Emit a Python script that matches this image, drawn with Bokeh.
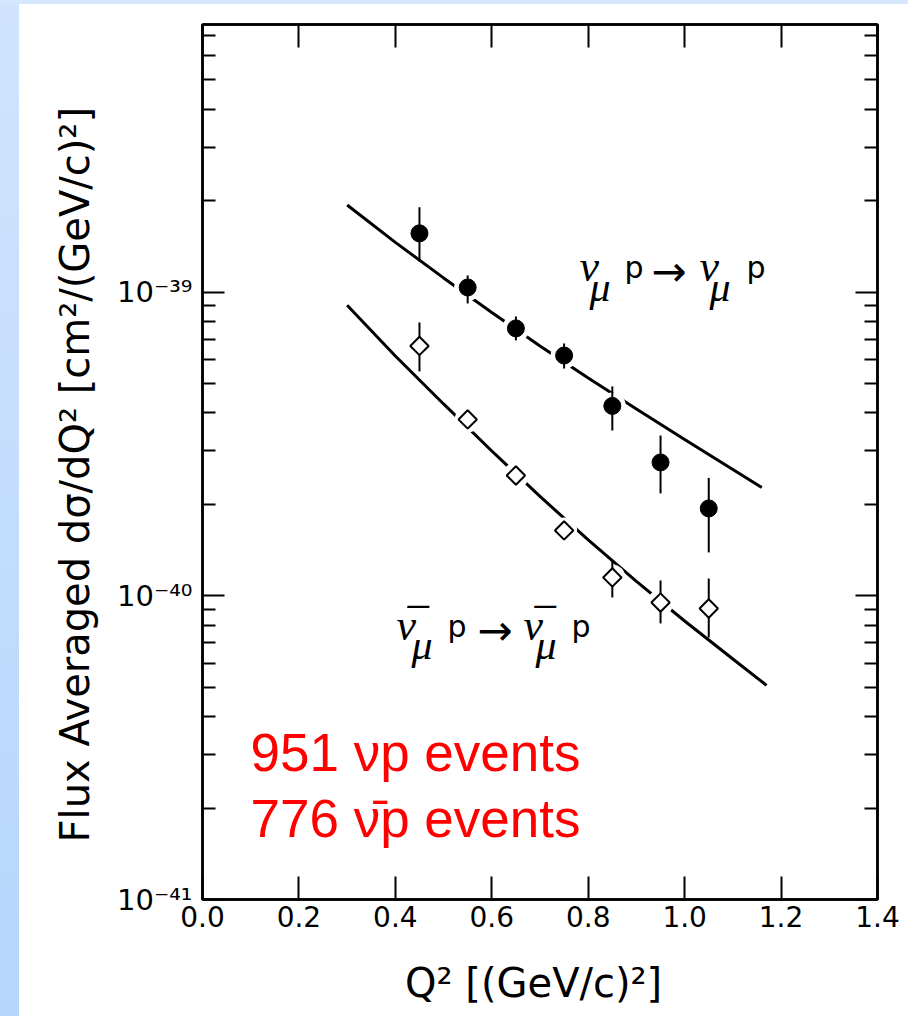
import math
from bokeh.plotting import figure
from bokeh.models import (FixedTicker, LogAxis, LinearAxis, Label, Div, Range1d,
                          PrintfTickFormatter, CustomJSTickFormatter)
from bokeh.layouts import column, row
from bokeh.embed import file_html
from bokeh.resources import INLINE

# ---------------- data ----------------
q2_points = [0.45, 0.55, 0.65, 0.75, 0.85, 0.95, 1.05]

nu_sigma = [1.560e-39, 1.035e-39, 7.59e-40, 6.18e-40, 4.217e-40, 2.748e-40, 1.939e-40]
nu_hi    = [1.900e-39, 1.134e-39, 8.31e-40, 6.77e-40, 4.89e-40, 3.37e-40, 2.443e-40]
nu_lo    = [1.261e-39, 9.17e-40, 6.93e-40, 5.60e-40, 3.50e-40, 2.173e-40, 1.389e-40]

nubar_sigma = [6.645e-40, 3.806e-40, 2.489e-40, 1.641e-40, 1.149e-40, 9.50e-41, 9.08e-41]
nubar_hi    = [7.94e-40, 4.00e-40, 2.60e-40, 1.74e-40, 1.307e-40, 1.123e-40, 1.140e-40]
nubar_lo    = [5.48e-40, 3.62e-40, 2.38e-40, 1.55e-40, 9.87e-41, 8.11e-41, 7.29e-41]

fit_q2_nu = [0.30, 0.40, 0.50, 0.60, 0.70, 0.80, 0.90, 1.00, 1.10, 1.16]
fit_nu    = [1.935e-39, 1.457e-39, 1.113e-39, 8.566e-40, 6.645e-40, 5.215e-40,
             4.122e-40, 3.271e-40, 2.605e-40, 2.272e-40]

fit_q2_nubar = [0.30, 0.40, 0.50, 0.60, 0.70, 0.80, 0.90, 1.00, 1.10, 1.17]
fit_nubar    = [9.047e-40, 6.16e-40, 4.281e-40, 2.997e-40, 2.123e-40, 1.527e-40,
                1.115e-40, 8.26e-41, 6.19e-41, 5.07e-41]

x_ticks = [0.0, 0.2, 0.4, 0.6, 0.8, 1.0, 1.2, 1.4]
y_major = [1e-41, 1e-40, 1e-39]
y_tick_labels = ["10⁻⁴¹", "10⁻⁴⁰", "10⁻³⁹"]

x_title = "Q²  [(GeV/c)²]"
y_title = "Flux Averaged  dσ/dQ²  [cm²/(GeV/c)²]"

# ---------------- figure ----------------
X_MIN, X_MAX = 0.0, 1.4
Y_MIN, Y_MAX = 1e-41, 7.6e-39
FRAME_L, FRAME_R, FRAME_T, FRAME_B = 202, 877, 24, 899   # page pixels
PAGE_DX, PAGE_DY = 19, 4

W, H = 908 - PAGE_DX, 1016 - PAGE_DY

p = figure(width=W, height=H, x_range=Range1d(X_MIN, X_MAX), y_range=Range1d(Y_MIN, Y_MAX),
           y_axis_type="log", output_backend="svg", toolbar_location=None,
           min_border_left=FRAME_L - PAGE_DX, min_border_right=908 - FRAME_R,
           min_border_top=FRAME_T - PAGE_DY, min_border_bottom=1016 - FRAME_B)
p.background_fill_color = "white"
p.border_fill_color = "white"
p.outline_line_color = "black"
p.outline_line_width = 2.5
p.xgrid.visible = False
p.ygrid.visible = False

dec_px = (FRAME_B - FRAME_T) / math.log10(Y_MAX / Y_MIN)

def X(px):
    return X_MIN + (px - FRAME_L) / (FRAME_R - FRAME_L) * (X_MAX - X_MIN)

def Y(py):
    return 10 ** (math.log10(Y_MIN) + (FRAME_B - py) / dec_px)

blank = CustomJSTickFormatter(code="return ''")
minor = [k * 10.0 ** e for e in (-41, -40, -39) for k in range(2, 10) if k * 10.0 ** e <= Y_MAX]

def style_y(ax, labels=False):
    ax.ticker = FixedTicker(ticks=y_major, minor_ticks=minor)
    ax.major_tick_in = 22
    ax.major_tick_out = 0
    ax.minor_tick_in = 13
    ax.minor_tick_out = 0
    ax.axis_line_width = 2.5
    ax.major_tick_line_width = 2
    ax.minor_tick_line_width = 2
    if labels:
        ax.formatter = CustomJSTickFormatter(
            args=dict(vals=y_major, labs=y_tick_labels),
            code="""
            for (let i = 0; i < vals.length; i++) {
                if (Math.abs(Math.log10(tick) - Math.log10(vals[i])) < 1e-6) return labs[i];
            }
            return '';
            """)
        ax.major_label_text_font = "DejaVu Sans"
        ax.major_label_text_font_size = "29px"
        ax.major_label_text_color = "black"
        ax.major_label_standoff = 10
    else:
        ax.formatter = blank
        ax.major_label_text_font_size = "1px"
        ax.major_label_standoff = 0

def style_x(ax, labels=True):
    ax.ticker = FixedTicker(ticks=x_ticks, minor_ticks=[])
    ax.major_tick_in = 23
    ax.major_tick_out = 0
    ax.minor_tick_in = 0
    ax.minor_tick_out = 0
    ax.axis_line_width = 2.5
    ax.major_tick_line_width = 2
    if labels:
        ax.formatter = PrintfTickFormatter(format="%.1f")
        ax.major_label_text_font = "DejaVu Sans"
        ax.major_label_text_font_size = "28px"
        ax.major_label_text_color = "black"
        ax.major_label_standoff = 6
    else:
        ax.formatter = blank
        ax.major_label_text_font_size = "1px"
        ax.major_label_standoff = 0

bottom_axis = p.xaxis[0]
left_axis = p.yaxis[0]
style_y(left_axis, labels=True)
style_x(bottom_axis)

bottom_axis.axis_label = x_title
bottom_axis.axis_label_text_font = "DejaVu Sans"
bottom_axis.axis_label_text_font_size = "40px"
bottom_axis.axis_label_text_font_style = "normal"
bottom_axis.axis_label_text_color = "black"
bottom_axis.axis_label_standoff = 30

left_axis.axis_label = y_title
left_axis.axis_label_text_font = "DejaVu Sans"
left_axis.axis_label_text_font_size = "40px"
left_axis.axis_label_text_font_style = "normal"
left_axis.axis_label_text_color = "black"
left_axis.axis_label_standoff = 16

right_axis = LogAxis()
style_y(right_axis)
p.add_layout(right_axis, "right")
top_axis = LinearAxis()
style_x(top_axis, labels=False)
p.add_layout(top_axis, "above")

# ---------------- curves and points ----------------
p.line(fit_q2_nu, fit_nu, line_color="black", line_width=3)
p.line(fit_q2_nubar, fit_nubar, line_color="black", line_width=3)

# white halos produce the breaks of the curves at the points
p.scatter(q2_points, nu_sigma, size=27, marker="circle", fill_color="white", line_color=None)
p.scatter(q2_points, nubar_sigma, size=26, marker="circle", fill_color="white", line_color=None)

p.segment(q2_points, nu_lo, q2_points, nu_hi, line_color="black", line_width=2)
p.segment(q2_points, nubar_lo, q2_points, nubar_hi, line_color="black", line_width=2)

p.scatter(q2_points, nu_sigma, size=17, marker="circle", fill_color="black", line_color="black")
p.scatter(q2_points, nubar_sigma, size=13, marker="square", angle=math.pi / 4,
          fill_color="white", line_color="black", line_width=2)

# ---------------- texts inside the frame ----------------
def lab(text, px, py, size, font="DejaVu Sans", style="normal", color="black",
        align="left", baseline="alphabetic"):
    p.add_layout(Label(x=X(px), y=Y(py), text=text, text_font=font, text_font_size=size,
                       text_font_style=style, text_color=color, text_align=align,
                       text_baseline=baseline))

NU = "ν"
NUBAR = "ν\u0305"
pieces = [
    (NU, 579, 266, "44px", "Liberation Serif", "italic"),
    ("μ", 589, 286, "42px", "Liberation Serif", "italic"),
    ("p", 624, 267, "30px", "DejaVu Sans", "normal"),
    ("→", 651, 271, "42px", "DejaVu Sans", "normal"),
    (NU, 699, 266, "44px", "Liberation Serif", "italic"),
    ("μ", 709, 286, "42px", "Liberation Serif", "italic"),
    ("p", 746, 267, "30px", "DejaVu Sans", "normal"),
    (NUBAR, 396, 625, "44px", "Liberation Serif", "italic"),
    ("μ", 411, 644, "42px", "Liberation Serif", "italic"),
    ("p", 447, 626, "30px", "DejaVu Sans", "normal"),
    ("→", 477, 630, "42px", "DejaVu Sans", "normal"),
    (NUBAR, 523, 625, "44px", "Liberation Serif", "italic"),
    ("μ", 535, 644, "42px", "Liberation Serif", "italic"),
    ("p", 571, 626, "30px", "DejaVu Sans", "normal"),
]
for t, px, py, sz, fnt, st in pieces:
    lab(t, px, py, sz, font=fnt, style=st)

# event counts
lab("951 νp events", 250, 752, "53px", font="Liberation Sans", color="#FF0000")
lab("776 ν\u0304p events", 250, 818, "53px", font="Liberation Sans", color="#FF0000")

# ---------------- page with the light-blue slide edges ----------------
top_strip = Div(width=908, height=PAGE_DY, margin=0,
                styles={"background": "#d4e7fd"})
left_strip = Div(width=PAGE_DX, height=H, margin=0,
                 styles={"background": "linear-gradient(#d0e4fd, #b6d6fc)"})
p.margin = 0
layout = column(top_strip, row(left_strip, p, spacing=0, margin=0), spacing=0, margin=0)

open("out.html", "w").write(file_html(layout, INLINE))
